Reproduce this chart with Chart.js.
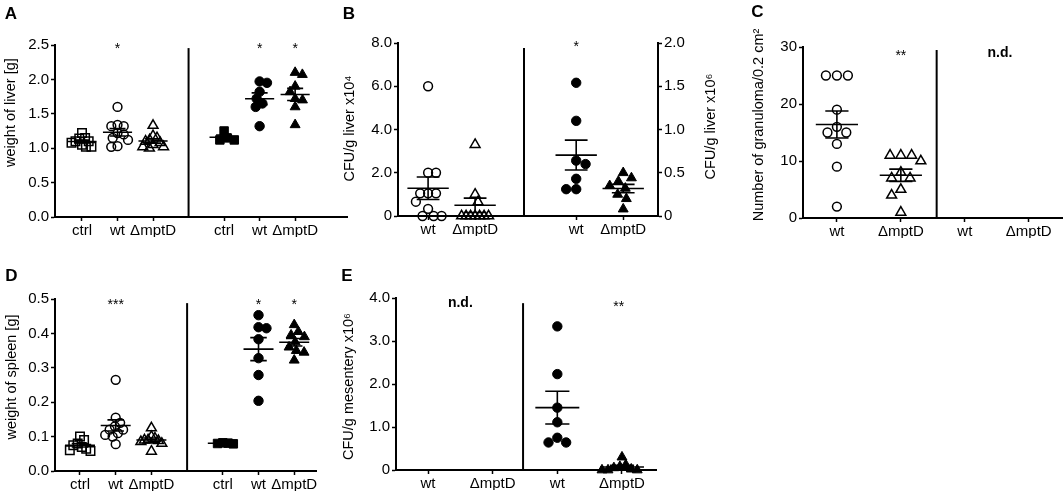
<!DOCTYPE html>
<html><head><meta charset="utf-8">
<script src="https://cdn.jsdelivr.net/npm/chart.js@4.4.1/dist/chart.umd.min.js"></script>
<style>
html,body{margin:0;padding:0;background:#fff;}
#wrap{position:relative;width:1063px;height:494px;overflow:hidden;background:#fff;}
canvas{position:absolute;left:0;top:0;}
</style></head><body>
<div id="wrap">
<canvas id="cA" width="1063" height="494"></canvas>
<canvas id="cB" width="1063" height="494"></canvas>
<canvas id="cC" width="1063" height="494"></canvas>
<canvas id="cD" width="1063" height="494"></canvas>
<canvas id="cE" width="1063" height="494"></canvas>
</div>
<script>
// ---------------- data ----------------
const catsSix  = ['ctrl', 'wt', '\u0394mptD', 'ctrl', 'wt', '\u0394mptD'];
const catsFour = ['wt', '\u0394mptD', 'wt', '\u0394mptD'];

const ticksA  = ['0.0', '0.5', '1.0', '1.5', '2.0', '2.5'];
const ticksB1 = ['0', '2.0', '4.0', '6.0', '8.0'];
const ticksB2 = ['0', '0.5', '1.0', '1.5', '2.0'];
const ticksC  = ['0', '10', '20', '30'];
const ticksD  = ['0.0', '0.1', '0.2', '0.3', '0.4', '0.5'];
const ticksE  = ['0', '1.0', '2.0', '3.0', '4.0'];

// A: weight of liver [g]
const liverCtrl1 = [1.22, 1.15, 1.14, 1.10, 1.10, 1.08, 1.05, 1.02, 1.02];
const liverWt1   = [1.60, 1.34, 1.32, 1.32, 1.22, 1.20, 1.15, 1.12, 1.03, 1.02];
const liverMpt1  = [1.33, 1.18, 1.15, 1.12, 1.10, 1.08, 1.05, 1.02, 1.02, 1.00];
const liverCtrl2 = [1.25, 1.15, 1.12, 1.12];
const liverWt2   = [1.97, 1.95, 1.82, 1.72, 1.65, 1.60, 1.32];
const liverMpt2  = [2.10, 2.07, 1.90, 1.82, 1.72, 1.70, 1.60, 1.34];

// B: CFU/g liver (left x10^4, right x10^6)
const cfuLiverWt1  = [6.0, 2.0, 2.0, 1.05, 1.05, 1.05, 0.66, 0.33, 0, 0, 0];
const cfuLiverMpt1 = [3.3, 1.0, 0.65, 0, 0, 0, 0, 0, 0, 0];
const cfuLiverWt2  = [1.54, 1.10, 0.64, 0.60, 0.43, 0.31, 0.31];
const cfuLiverMpt2 = [0.50, 0.44, 0.40, 0.35, 0.32, 0.25, 0.20, 0.08];

// C: Number of granuloma / 0.2 cm2
const granWt1  = [25, 25, 25, 19, 16, 15, 15, 13, 9, 2];
const granMpt1 = [11, 11, 11, 10, 8, 7, 7, 5, 4, 1];

// D: weight of spleen [g]
const spleenCtrl1 = [0.10, 0.09, 0.08, 0.075, 0.07, 0.065, 0.06, 0.058];
const spleenWt1   = [0.265, 0.155, 0.14, 0.13, 0.12, 0.12, 0.11, 0.105, 0.10, 0.078];
const spleenMpt1  = [0.125, 0.10, 0.095, 0.09, 0.09, 0.088, 0.085, 0.08, 0.057];
const spleenCtrl2 = [0.082, 0.081, 0.080, 0.079];
const spleenWt2   = [0.453, 0.418, 0.415, 0.383, 0.328, 0.279, 0.204];
const spleenMpt2  = [0.425, 0.405, 0.395, 0.39, 0.375, 0.36, 0.35, 0.345, 0.322];

// E: CFU/g mesentery x10^6
const mesWt2  = [3.34, 2.23, 1.45, 1.11, 0.75, 0.64, 0.64];
const mesMpt2 = [0.30, 0.12, 0.08, 0.05, 0.02, 0, 0, 0];

// ---------------- layout / style ----------------
const FONT = '"Liberation Sans", Arial, Helvetica, sans-serif';
const W = 1063, H = 494, YW = 40, XH = 20;

const panels = [
  { id:'cA', area:{l:55,t:45,r:347,b:217}, x:{min:0.24,max:8.46}, catPos:[1,2,3,5,6,7], catLabels:catsSix,
    y:{min:0,max:2.5,step:0.5,labels:ticksA}, divider:{x:4, top:2.455}, meanHalf:0.41, maxHalf:10.5, gap:7.5,
    groups:[{data:liverCtrl1,cat:0,shape:'rect'},{data:liverWt1,cat:1,shape:'circle'},{data:liverMpt1,cat:2,shape:'triangle'},
            {data:liverCtrl2,cat:3,shape:'rect',fill:true},{data:liverWt2,cat:4,shape:'circle',fill:true},{data:liverMpt2,cat:5,shape:'triangle',fill:true}],
    notes:[{x:2,text:'*',dy:7.5},{x:6,text:'*',dy:7.5},{x:7,text:'*',dy:7.5}],
    titles:[{text:'weight of liver [g]', x:11, y:112.6}],
    letter:{text:'A', x:11, y:14} },
  { id:'cB', area:{l:398,t:43,r:658,b:216}, x:{min:0.36,max:5.89}, catPos:[1,2,4.15,5.15], catLabels:catsFour,
    y:{min:0,max:8,step:2,labels:ticksB1}, y2:{min:0,max:2,step:0.5,labels:ticksB2}, divider:{x:3.04, top:7.77}, meanHalf:0.44, maxHalf:13.5, gap:10,
    groups:[{data:cfuLiverWt1,cat:0,shape:'circle'},{data:cfuLiverMpt1,cat:1,shape:'triangle'},
            {data:cfuLiverWt2,cat:2,shape:'circle',fill:true,axis:'y2'},{data:cfuLiverMpt2,cat:3,shape:'triangle',fill:true,axis:'y2'}],
    notes:[{x:4.15,text:'*',dy:7.5}],
    titles:[{text:'CFU/g liver x10\u2074', x:350, y:128.5},{text:'CFU/g liver x10\u2076', x:710.5, y:126.5}],
    letter:{text:'B', x:349, y:14} },
  { id:'cC', area:{l:803,t:47,r:1062,b:218}, x:{min:0.47,max:4.52}, catPos:[1,2,3,4], catLabels:catsFour,
    y:{min:0,max:30,step:10,labels:ticksC}, divider:{x:2.56, top:29.47}, meanHalf:0.33, maxHalf:20, gap:11,
    groups:[{data:granWt1,cat:0,shape:'circle'},{data:granMpt1,cat:1,shape:'triangle'}],
    notes:[{x:2,text:'**',dy:13},{x:3.55,text:'n.d.',bold:true,dy:10}],
    titles:[{text:'Number of granuloma/0.2 cm\u00B2', x:758.5, y:125}],
    letter:{text:'C', x:757.5, y:12.5} },
  { id:'cD', area:{l:55,t:299,r:316,b:471}, x:{min:0.30,max:7.61}, catPos:[1,2,3,5,6,7], catLabels:catsSix,
    y:{min:0,max:0.5,step:0.1,labels:ticksD}, divider:{x:4, top:0.488}, meanHalf:0.42, maxHalf:10.5, gap:8,
    groups:[{data:spleenCtrl1,cat:0,shape:'rect'},{data:spleenWt1,cat:1,shape:'circle'},{data:spleenMpt1,cat:2,shape:'triangle'},
            {data:spleenCtrl2,cat:3,shape:'rect',fill:true},{data:spleenWt2,cat:4,shape:'circle',fill:true},{data:spleenMpt2,cat:5,shape:'triangle',fill:true}],
    notes:[{x:2,text:'***',dy:9.5},{x:6,text:'*',dy:9.5},{x:7,text:'*',dy:9.5}],
    titles:[{text:'weight of spleen [g]', x:12, y:377}],
    letter:{text:'D', x:11.5, y:276.5} },
  { id:'cE', area:{l:396,t:298,r:656,b:470}, x:{min:0.505,max:4.526}, catPos:[1,2,3,4], catLabels:catsFour,
    y:{min:0,max:4,step:1,labels:ticksE}, divider:{x:2.47, top:3.88}, meanHalf:0.34, maxHalf:20, gap:10,
    groups:[{data:mesWt2,cat:2,shape:'circle',fill:true},{data:mesMpt2,cat:3,shape:'triangle',fill:true}],
    notes:[{x:1.5,text:'n.d.',bold:true,dy:9},{x:3.95,text:'**',dy:12.5}],
    titles:[{text:'CFU/g mesentery x10\u2076', x:349, y:386.5}],
    letter:{text:'E', x:347, y:276.5} }
];

// deterministic beeswarm offsets (px)
function swarm(vals, pxPerUnit, d, maxHalf) {
  const order = vals.map((v, i) => i).sort((a, b) => vals[b] - vals[a]);
  const placed = [];
  const off = new Array(vals.length).fill(0);
  let side = 1;
  for (const i of order) {
    const y = vals[i] * pxPerUnit;
    const iv = [];
    for (const p of placed) {
      const dy = Math.abs(p.y - y);
      if (dy < d) { const w = Math.sqrt(d * d - dy * dy); iv.push([p.x - w, p.x + w]); }
    }
    const cands = [0];
    iv.forEach(([a, b]) => cands.push(a, b));
    const free = c => iv.every(([a, b]) => c <= a + 1e-6 || c >= b - 1e-6);
    let best = null;
    for (const c of cands) {
      if (!free(c)) continue;
      if (best === null || Math.abs(c) < Math.abs(best) - 1e-6 ||
          (Math.abs(Math.abs(c) - Math.abs(best)) < 1e-6 && Math.sign(c) === side)) best = c;
    }
    if (best !== 0) side = -Math.sign(best);
    off[i] = best;
    placed.push({x: best, y});
  }
  const m = Math.max(0, ...off.map(Math.abs));
  const f = m > maxHalf ? maxHalf / m : 1;
  return off.map(o => o * f);
}

function stats(a) {
  const n = a.length, mean = a.reduce((s, v) => s + v, 0) / n;
  const sd = Math.sqrt(a.reduce((s, v) => s + (v - mean) * (v - mean), 0) / (n - 1));
  return {mean, sem: sd / Math.sqrt(n)};
}

const decor = {
  id: 'decor',
  afterDatasetsDraw(chart, args, opts) {
    const p = opts.panel, ctx = chart.ctx, xs = chart.scales.x, ys = chart.scales.y, ca = chart.chartArea;
    ctx.save();
    ctx.strokeStyle = '#000'; ctx.fillStyle = '#000'; ctx.lineCap = 'butt';
    // divider
    ctx.lineWidth = 2;
    const dx = xs.getPixelForValue(p.divider.x);
    ctx.beginPath(); ctx.moveTo(dx, ys.getPixelForValue(p.divider.top)); ctx.lineTo(dx, ca.bottom); ctx.stroke();
    // mean +/- SEM
    ctx.lineWidth = 1.6;
    p.groups.forEach(g => {
      const s = chart.scales[g.axis || 'y'];
      const st = stats(g.data);
      const c = p.catPos[g.cat];
      const xl = xs.getPixelForValue(c - p.meanHalf), xr = xs.getPixelForValue(c + p.meanHalf);
      const cl = xs.getPixelForValue(c - p.meanHalf * 0.55), cr = xs.getPixelForValue(c + p.meanHalf * 0.55);
      const xc = xs.getPixelForValue(c);
      const ym = s.getPixelForValue(st.mean), yt = s.getPixelForValue(st.mean + st.sem), yb = s.getPixelForValue(st.mean - st.sem);
      ctx.beginPath();
      ctx.moveTo(xl, ym); ctx.lineTo(xr, ym);
      ctx.moveTo(cl, yt); ctx.lineTo(cr, yt);
      ctx.moveTo(cl, yb); ctx.lineTo(cr, yb);
      ctx.moveTo(xc, yt); ctx.lineTo(xc, yb);
      ctx.stroke();
    });
    // significance notes
    ctx.textAlign = 'center'; ctx.textBaseline = 'alphabetic';
    p.notes.forEach(n => {
      ctx.font = (n.bold ? 'bold ' : '') + '14px ' + FONT;
      ctx.fillText(n.text, xs.getPixelForValue(n.x), ca.top + n.dy);
    });
    // axis titles (rotated, reading bottom to top)
    ctx.textBaseline = 'middle';
    p.titles.forEach(t => {
      ctx.save(); ctx.translate(t.x, t.y); ctx.rotate(-Math.PI / 2);
      ctx.font = '14.5px ' + FONT; ctx.fillText(t.text, 0, 0); ctx.restore();
    });
    // panel letter
    ctx.font = 'bold 17px ' + FONT;
    ctx.fillText(p.letter.text, p.letter.x, p.letter.y);
    ctx.restore();
  }
};

function yAxis(cfg, pos) {
  return {
    type: 'linear', position: pos, min: cfg.min, max: cfg.max,
    ticks: { stepSize: cfg.step, callback: (v, i) => cfg.labels[i], color: '#000',
             font: {size: 15, family: FONT}, padding: 2, autoSkip: false },
    grid: { display: true, drawOnChartArea: false, drawTicks: true, tickLength: 4, tickColor: '#000', tickWidth: 1.5 },
    border: { display: true, color: '#000', width: 2 },
    afterFit: s => { s.width = YW; s.paddingTop = 0; s.paddingBottom = 0; s.paddingLeft = 0; s.paddingRight = 0; }
  };
}

panels.forEach(p => {
  const unitX = (p.area.r - p.area.l) / (p.x.max - p.x.min);
  const datasets = p.groups.map(g => {
    const axis = g.axis || 'y';
    const yc = axis === 'y2' ? p.y2 : p.y;
    const unitY = (p.area.b - p.area.t) / (yc.max - yc.min);
    const offs = swarm(g.data, unitY, p.gap, p.maxHalf);
    const r = g.shape === 'rect' ? 6.0 : g.shape === 'triangle' ? 5.7 : (g.fill ? 4.7 : 4.4);
    return {
      type: 'scatter', yAxisID: axis, clip: false,
      data: g.data.map((v, i) => ({x: p.catPos[g.cat] + offs[i] / unitX, y: v})),
      pointStyle: g.shape, pointRadius: r, pointHoverRadius: r,
      borderColor: '#000', backgroundColor: g.fill ? '#000' : 'rgba(0,0,0,0)',
      borderWidth: g.fill ? 1 : 1.5
    };
  });
  const scales = {
    x: {
      type: 'linear', min: p.x.min, max: p.x.max,
      afterBuildTicks: s => { s.ticks = p.catPos.map(v => ({value: v})); },
      ticks: { callback: (v, i) => p.catLabels[i], color: '#000', font: {size: 15, family: FONT},
               padding: 1, maxRotation: 0, minRotation: 0, autoSkip: false },
      grid: { display: true, drawOnChartArea: false, drawTicks: true, tickLength: 4, tickColor: '#000', tickWidth: 1.5 },
      border: { display: true, color: '#000', width: 2 },
      afterFit: s => { s.height = XH; s.paddingLeft = 0; s.paddingRight = 0; s.paddingTop = 0; s.paddingBottom = 0; }
    },
    y: yAxis(p.y, 'left')
  };
  if (p.y2) scales.y2 = yAxis(p.y2, 'right');
  new Chart(document.getElementById(p.id), {
    type: 'scatter',
    data: { datasets },
    options: {
      responsive: false, animation: false, events: [],
      layout: { autoPadding: false, padding: {
        left: p.area.l - YW, top: p.area.t,
        right: W - p.area.r - (p.y2 ? YW : 0), bottom: H - p.area.b - XH } },
      scales,
      plugins: { legend: {display: false}, tooltip: {enabled: false}, decor: {panel: p} }
    },
    plugins: [decor]
  });
});
</script>
</body></html>
